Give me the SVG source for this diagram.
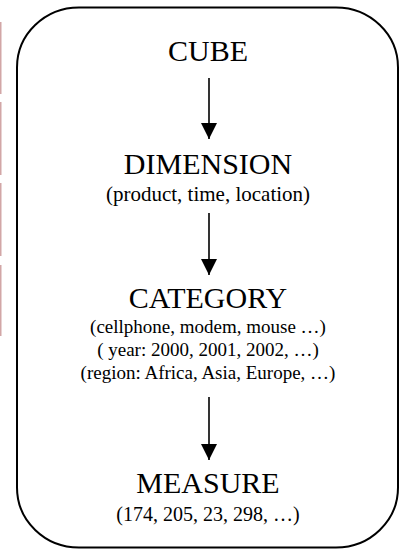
<svg xmlns="http://www.w3.org/2000/svg" width="404" height="550" viewBox="0 0 404 550">
<style>
text{font-family:"Liberation Serif","Times New Roman",serif;fill:#000;text-anchor:middle}
.t{font-size:30px}
.s{font-size:21px}
.m{font-size:20px}
.k{font-size:19px}
.c{stroke:#000;stroke-width:1.6;fill:none}
.r{stroke:#d2a6a6;stroke-width:1.5}
</style>
<defs>
<marker id="ah" viewBox="0 0 16 16" refX="16" refY="8" markerWidth="16" markerHeight="16" markerUnits="userSpaceOnUse" orient="auto">
<path d="M0,0 L16,8 L0,16 Z" fill="#000"/>
</marker>
</defs>
<g id="margin">
<line class="r" x1="0.75" y1="22" x2="0.75" y2="94"/>
<line class="r" x1="0.75" y1="102" x2="0.75" y2="175"/>
<line class="r" x1="0.75" y1="183" x2="0.75" y2="256"/>
<line class="r" x1="0.75" y1="265" x2="0.75" y2="336"/>
</g>
<g id="frame">
<rect x="17" y="7.5" width="381" height="540" rx="62" ry="60" fill="none" stroke="#000" stroke-width="2"/>
</g>
<g id="cube"><text class="t" x="208" y="61">CUBE</text></g>
<g id="dimension">
<text class="t" x="208" y="174">DIMENSION</text>
<text class="s" x="208" y="201">(product, time, location)</text>
</g>
<g id="category">
<text class="t" x="208" y="308">CATEGORY</text>
<text class="k" x="208" y="333">(cellphone, modem, mouse …)</text>
<text class="k" x="208" y="356">( year: 2000, 2001, 2002, …)</text>
<text class="k" x="208" y="379">(region: Africa, Asia, Europe, …)</text>
</g>
<g id="measure">
<text class="t" x="208" y="493">MEASURE</text>
<text class="m" x="208" y="521">(174, 205, 23, 298, …)</text>
</g>
<g id="connectors">
<line class="c" x1="209" y1="78" x2="209" y2="139" marker-end="url(#ah)"/>
<line class="c" x1="209" y1="213" x2="209" y2="275" marker-end="url(#ah)"/>
<line class="c" x1="209" y1="397" x2="209" y2="460" marker-end="url(#ah)"/>
</g>
</svg>
